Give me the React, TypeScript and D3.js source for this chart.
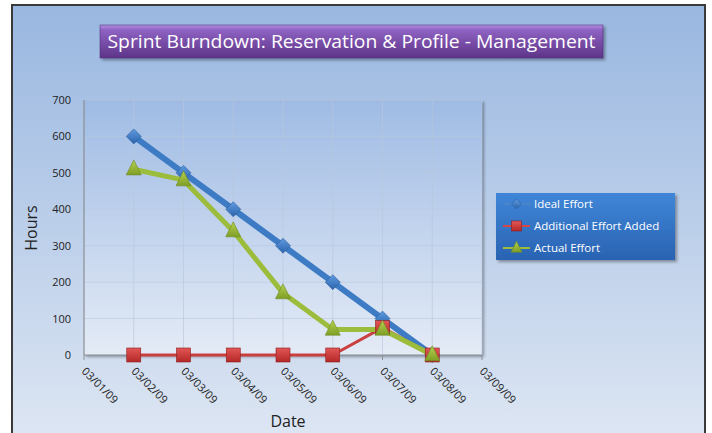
import React from "react";
import * as d3 from "d3";

const dates = ["03/01/09", "03/02/09", "03/03/09", "03/04/09", "03/05/09", "03/06/09", "03/07/09", "03/08/09", "03/09/09"];
const pointDates = ["03/02/09", "03/03/09", "03/04/09", "03/05/09", "03/06/09", "03/07/09", "03/08/09"];
const idealEffort = [600, 500, 400, 300, 200, 100, 0];
const additionalEffort = [0, 0, 0, 0, 0, 75, 0];
const actualEffort = [510, 480, 340, 170, 70, 70, 0];
const yTicks = [0, 100, 200, 300, 400, 500, 600, 700];
const title = "Sprint Burndown: Reservation & Profile - Management";
const legendNames = ["Ideal Effort", "Additional Effort Added", "Actual Effort"];

const parse = d3.timeParse("%m/%d/%y");

export default function App() {
  const W = 712, H = 433;
  const x = d3.scaleTime().domain([parse(dates[0])!, parse(dates[dates.length - 1])!]).range([84, 482]);
  const y = d3.scaleLinear().domain([0, 700]).range([355, 100]);
  const font = "'Open Sans', 'Noto Sans', sans-serif";

  const mk = (vals: number[]) => vals.map((v, i) => [x(parse(pointDates[i])!), y(v)] as [number, number]);
  const line = d3.line();
  const ideal = mk(idealEffort);
  const add = mk(additionalEffort);
  const act = mk(actualEffort);

  const diamond = (cx: number, cy: number, r: number, k: string) => (
    <path key={k} d={`M${cx},${cy - r}L${cx + r},${cy}L${cx},${cy + r}L${cx - r},${cy}Z`} fill="url(#gBlue)" stroke="#2b5f9e" strokeWidth={0.6} />
  );
  const square = (cx: number, cy: number, s: number, k: string) => (
    <rect key={k} x={cx - s / 2} y={cy - s / 2} width={s} height={s} fill="url(#gRed)" stroke="#8e1c1c" strokeWidth={0.6} />
  );
  const tri = (cx: number, cy: number, s: number, k: string) => (
    <path key={k} d={`M${cx},${cy - s * 0.62}L${cx + s / 2},${cy + s * 0.38}L${cx - s / 2},${cy + s * 0.38}Z`} fill="url(#gGreen)" stroke="#6f8a22" strokeWidth={0.6} />
  );

  return (
    <svg width={W} height={H} style={{ position: "absolute", left: 0, top: 0 }}>
      <defs>
        <linearGradient id="bg" x1="0" y1="0" x2="0" y2="1">
          <stop offset="0" stopColor="#99b7e0" />
          <stop offset="1" stopColor="#dde6f3" />
        </linearGradient>
        <linearGradient id="plotBg" x1="0" y1="0" x2="0" y2="1">
          <stop offset="0" stopColor="#9fbbe4" />
          <stop offset="1" stopColor="#e4ebf6" />
        </linearGradient>
        <linearGradient id="titleG" x1="0" y1="0" x2="0" y2="1">
          <stop offset="0" stopColor="#b38ee0" />
          <stop offset="0.15" stopColor="#8e62c2" />
          <stop offset="1" stopColor="#5d3488" />
        </linearGradient>
        <linearGradient id="legG" x1="0" y1="0" x2="0" y2="1">
          <stop offset="0" stopColor="#3f86d8" />
          <stop offset="1" stopColor="#2a63b2" />
        </linearGradient>
        <linearGradient id="gBlue" x1="0" y1="0" x2="0" y2="1">
          <stop offset="0" stopColor="#5e9be0" />
          <stop offset="1" stopColor="#2d64ad" />
        </linearGradient>
        <linearGradient id="gRed" x1="0" y1="0" x2="0" y2="1">
          <stop offset="0" stopColor="#e25656" />
          <stop offset="1" stopColor="#b42828" />
        </linearGradient>
        <linearGradient id="gGreen" x1="0" y1="0" x2="0" y2="1">
          <stop offset="0" stopColor="#b5d24e" />
          <stop offset="1" stopColor="#7e9e26" />
        </linearGradient>
        <filter id="sh" x="-10%" y="-10%" width="130%" height="140%">
          <feDropShadow dx="2" dy="2" stdDeviation="1.5" floodColor="#000" floodOpacity="0.35" />
        </filter>
      </defs>

      <rect x={0} y={0} width={W} height={H} fill="#ffffff" />
      <rect x={12} y={5} width={693} height={H} fill="url(#bg)" stroke="#3a3a3a" strokeWidth={2} />

      {/* title */}
      <rect x={100} y={25} width={503} height={33} fill="url(#titleG)" stroke="#4a2a70" strokeWidth={0.5} filter="url(#sh)" />
      <text x={351.5} y={48} textAnchor="middle" fill="#ffffff" fontSize={19} fontFamily={font} textLength={488} lengthAdjust="spacingAndGlyphs">{title}</text>

      {/* plot area */}
      <rect x={84} y={100} width={398} height={255} fill="url(#plotBg)" filter="url(#sh)" />
      {yTicks.slice(1).map(t => (
        <line key={"gy" + t} x1={84} x2={482} y1={y(t)} y2={y(t)} stroke="#b9c8dc" strokeWidth={0.8} opacity={0.8} />
      ))}
      {dates.slice(1).map(d => (
        <line key={"gx" + d} x1={x(parse(d)!)} x2={x(parse(d)!)} y1={100} y2={355} stroke="#b9c8dc" strokeWidth={0.8} opacity={0.8} />
      ))}
      <line x1={84} x2={84} y1={100} y2={355} stroke="#8a8f96" strokeWidth={1.2} />
      <line x1={84} x2={482} y1={355} y2={355} stroke="#8a8f96" strokeWidth={1.2} />
      {dates.map(d => (
        <line key={"tx" + d} x1={x(parse(d)!)} x2={x(parse(d)!)} y1={355} y2={360} stroke="#8a8f96" strokeWidth={1} />
      ))}

      {/* y ticks */}
      {yTicks.map(t => (
        <text key={"yt" + t} x={71} y={y(t) + 4} textAnchor="end" fontSize={11} fill="#222" fontFamily={font}>{t}</text>
      ))}
      <text transform="translate(37,228) rotate(-90)" textAnchor="middle" fontSize={16} fill="#222" fontFamily={font}>Hours</text>

      {/* x tick labels */}
      {dates.map(d => {
        const px = x(parse(d)!);
        return (
          <text key={"xl" + d} transform={`translate(${px - 3},${372}) rotate(45)`} textAnchor="start" fontSize={11} fill="#222" fontFamily={font}>{d}</text>
        );
      })}
      <text x={288} y={427} textAnchor="middle" fontSize={16} fill="#222" fontFamily={font}>Date</text>

      {/* series */}
      <path d={line(ideal)!} fill="none" stroke="#3d7bc4" strokeWidth={6} strokeLinejoin="round" />
      <path d={line(add)!} fill="none" stroke="#c9403f" strokeWidth={3} strokeLinejoin="round" />
      <path d={line(act)!} fill="none" stroke="#9cbc3b" strokeWidth={5} strokeLinejoin="round" />
      {ideal.map((p, i) => diamond(p[0], p[1], 7.5, "d" + i))}
      {add.map((p, i) => square(p[0], p[1], 14, "s" + i))}
      {act.map((p, i) => tri(p[0], p[1], 15, "t" + i))}

      {/* legend */}
      <rect x={496} y={193} width={179} height={67} fill="url(#legG)" filter="url(#sh)" />
      {legendNames.map((n, i) => {
        const ly = 204 + i * 22;
        return (
          <g key={"lg" + i}>
            <line x1={503} x2={530} y1={ly} y2={ly} stroke={i === 0 ? "#4f86c6" : i === 1 ? "#d44848" : "#9cbc3b"} strokeWidth={i === 0 ? 1.5 : 2} />
            {i === 0 && diamond(516.5, ly, 5, "ld")}
            {i === 1 && square(516.5, ly, 10, "ls")}
            {i === 2 && tri(516.5, ly, 11, "lt")}
            <text x={534} y={ly + 4} fontSize={11.5} fill="#ffffff" fontFamily={font}>{n}</text>
          </g>
        );
      })}
    </svg>
  );
}
